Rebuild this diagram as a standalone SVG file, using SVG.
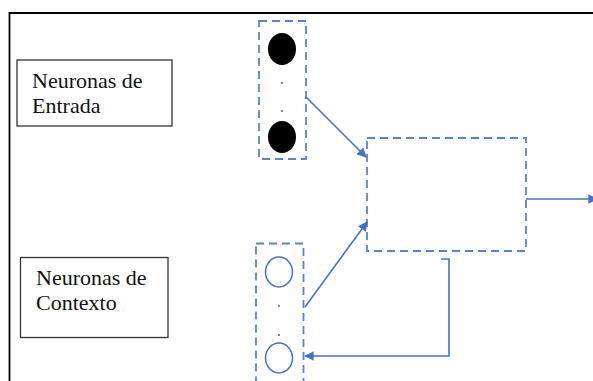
<svg xmlns="http://www.w3.org/2000/svg" width="593" height="381" viewBox="0 0 593 381">
  <defs>
    <marker id="arrow" viewBox="0 0 10 10" refX="9" refY="5" markerWidth="6.5" markerHeight="6" markerUnits="strokeWidth" orient="auto">
      <path d="M0,0 L10,5 L0,10 z" fill="#4472C4"/>
    </marker>
    <style>
      .frame { fill: none; stroke: #000; stroke-width: 1.8; }
      .label { fill: #fff; stroke: #333; stroke-width: 1.3; }
      .txt { font-size: 22px; fill: #111; }
      .group { fill: none; stroke: #5B82D0; stroke-width: 1.8; stroke-dasharray: 8 5; }
      .neuron-in { fill: #000; }
      .neuron-ctx { fill: #fff; stroke: #4472C4; stroke-width: 1.5; }
      .dot { fill: #666; }
      .conn { fill: none; stroke: #4472C4; stroke-width: 1.6; }
    </style>
  </defs>
  <rect width="593" height="381" fill="#fff"/>

  <!-- outer frame (top and left edges visible) -->
  <path class="frame" d="M9.5,381 V13 H593"/>

  <g id="label-entrada">
    <rect class="label" x="17" y="60" width="155" height="66"/>
    <text class="txt" x="32" y="88" style="font-family:'Liberation Serif'">Neuronas de</text>
    <text class="txt" x="32" y="113" style="font-family:'Liberation Serif'">Entrada</text>
  </g>

  <g id="label-contexto">
    <rect class="label" x="20.5" y="257.5" width="147.5" height="80"/>
    <text class="txt" x="36" y="285" style="font-family:'Liberation Serif'">Neuronas de</text>
    <text class="txt" x="36" y="310" style="font-family:'Liberation Serif'">Contexto</text>
  </g>

  <g id="input-layer">
    <rect class="group" x="259" y="21" width="47" height="138"/>
    <ellipse class="neuron-in" cx="282" cy="49" rx="14" ry="16"/>
    <circle class="dot" cx="282" cy="83" r="1"/>
    <circle class="dot" cx="282" cy="111" r="1"/>
    <ellipse class="neuron-in" cx="282" cy="137" rx="14" ry="16"/>
  </g>

  <g id="context-layer">
    <rect class="group" x="256" y="243.5" width="47.5" height="140"/>
    <ellipse class="neuron-ctx" cx="279" cy="272" rx="13.5" ry="15"/>
    <circle class="dot" cx="279" cy="306" r="1"/>
    <circle class="dot" cx="279" cy="335" r="1"/>
    <ellipse class="neuron-ctx" cx="279" cy="358" rx="13.5" ry="15"/>
  </g>

  <g id="hidden-layer">
    <rect class="group" x="367" y="138" width="159" height="113"/>
  </g>

  <g id="connectors">
    <line class="conn" x1="306" y1="97" x2="366" y2="157" marker-end="url(#arrow)"/>
    <line class="conn" x1="305" y1="307" x2="367" y2="222" marker-end="url(#arrow)"/>
    <polyline class="conn" points="526,199 597,199" marker-end="url(#arrow)"/>
    <polyline class="conn" points="441,259 449,259 449,356 305,356" marker-end="url(#arrow)"/>
  </g>
</svg>
